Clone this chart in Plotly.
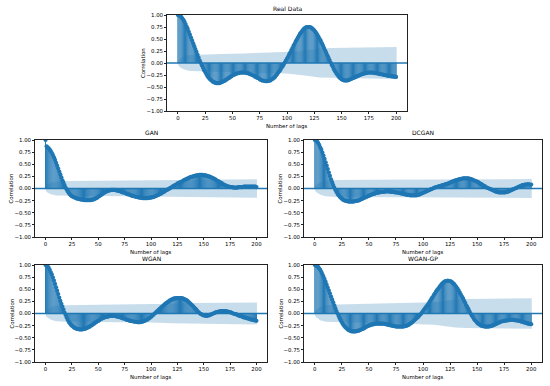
import plotly.graph_objects as go

lags = list(range(201))

real_acf = [1.00,0.99,0.98,0.96,0.93,0.90,0.86,0.81,0.76,0.71,0.65,0.59,0.53,0.47,0.41,0.35,0.29,0.23,0.17,0.11,
0.05,0.00,-0.05,-0.10,-0.15,-0.19,-0.23,-0.27,-0.30,-0.33,-0.35,-0.37,-0.39,-0.40,-0.41,-0.42,-0.42,-0.42,-0.42,-0.41,
-0.40,-0.39,-0.38,-0.37,-0.35,-0.34,-0.32,-0.31,-0.29,-0.28,-0.26,-0.25,-0.24,-0.23,-0.22,-0.21,-0.21,-0.20,-0.20,-0.20,
-0.20,-0.20,-0.20,-0.21,-0.21,-0.22,-0.23,-0.24,-0.25,-0.26,-0.27,-0.29,-0.30,-0.31,-0.32,-0.34,-0.35,-0.36,-0.37,-0.37,
-0.38,-0.38,-0.38,-0.37,-0.37,-0.36,-0.34,-0.33,-0.31,-0.29,-0.26,-0.23,-0.20,-0.17,-0.14,-0.10,-0.07,-0.03,0.01,0.05,
0.09,0.13,0.18,0.22,0.27,0.31,0.36,0.40,0.45,0.49,0.53,0.57,0.61,0.64,0.67,0.70,0.72,0.74,0.75,0.75,
0.75,0.75,0.74,0.72,0.70,0.68,0.65,0.62,0.58,0.54,0.50,0.46,0.41,0.36,0.31,0.26,0.21,0.16,0.11,0.06,
0.01,-0.04,-0.08,-0.13,-0.17,-0.21,-0.24,-0.27,-0.30,-0.32,-0.34,-0.35,-0.36,-0.36,-0.37,-0.36,-0.36,-0.35,-0.34,-0.33,
-0.32,-0.31,-0.30,-0.29,-0.28,-0.27,-0.26,-0.25,-0.24,-0.23,-0.22,-0.22,-0.21,-0.21,-0.20,-0.20,-0.20,-0.20,-0.20,-0.20,
-0.21,-0.21,-0.21,-0.22,-0.22,-0.23,-0.23,-0.24,-0.24,-0.25,-0.25,-0.26,-0.26,-0.27,-0.27,-0.27,-0.28,-0.28,-0.28,-0.29,
-0.29]

gan_acf = [1.00,0.87,0.85,0.83,0.80,0.77,0.73,0.69,0.64,0.59,0.53,0.47,0.41,0.35,0.29,0.23,0.17,0.12,0.07,0.02,
-0.02,-0.06,-0.09,-0.12,-0.14,-0.16,-0.17,-0.18,-0.19,-0.20,-0.21,-0.21,-0.22,-0.22,-0.23,-0.23,-0.23,-0.24,-0.24,-0.24,
-0.24,-0.24,-0.24,-0.24,-0.23,-0.23,-0.22,-0.21,-0.20,-0.19,-0.17,-0.16,-0.14,-0.13,-0.11,-0.10,-0.08,-0.07,-0.06,-0.05,
-0.04,-0.04,-0.03,-0.03,-0.03,-0.03,-0.03,-0.04,-0.04,-0.05,-0.05,-0.06,-0.07,-0.08,-0.08,-0.09,-0.10,-0.11,-0.12,-0.12,
-0.13,-0.14,-0.15,-0.15,-0.16,-0.17,-0.17,-0.18,-0.18,-0.19,-0.19,-0.19,-0.20,-0.20,-0.20,-0.20,-0.20,-0.20,-0.19,-0.19,
-0.19,-0.18,-0.18,-0.17,-0.16,-0.15,-0.14,-0.13,-0.12,-0.11,-0.10,-0.08,-0.07,-0.06,-0.04,-0.03,-0.02,-0.01,0.01,0.02,
0.03,0.05,0.06,0.07,0.08,0.10,0.11,0.12,0.13,0.14,0.15,0.17,0.18,0.19,0.20,0.21,0.22,0.23,0.24,0.24,
0.25,0.26,0.26,0.27,0.27,0.27,0.28,0.28,0.28,0.28,0.27,0.27,0.27,0.26,0.25,0.25,0.24,0.23,0.22,0.21,
0.20,0.19,0.17,0.16,0.15,0.13,0.12,0.11,0.09,0.08,0.07,0.06,0.05,0.04,0.04,0.03,0.03,0.03,0.02,0.02,
0.02,0.02,0.02,0.03,0.03,0.03,0.03,0.03,0.04,0.04,0.04,0.04,0.04,0.04,0.04,0.04,0.04,0.04,0.04,0.04,
0.03]

dcgan_acf = [1.00,0.99,0.97,0.94,0.90,0.85,0.80,0.74,0.68,0.61,0.54,0.47,0.40,0.33,0.26,0.19,0.13,0.07,0.02,-0.03,
-0.07,-0.11,-0.14,-0.17,-0.19,-0.21,-0.23,-0.24,-0.25,-0.26,-0.26,-0.27,-0.27,-0.27,-0.27,-0.27,-0.27,-0.26,-0.26,-0.25,
-0.25,-0.24,-0.23,-0.22,-0.21,-0.20,-0.19,-0.18,-0.17,-0.16,-0.15,-0.14,-0.13,-0.12,-0.11,-0.11,-0.10,-0.09,-0.09,-0.08,
-0.08,-0.07,-0.07,-0.07,-0.07,-0.06,-0.06,-0.06,-0.06,-0.06,-0.07,-0.07,-0.07,-0.07,-0.08,-0.08,-0.08,-0.09,-0.09,-0.10,
-0.10,-0.11,-0.11,-0.12,-0.12,-0.13,-0.13,-0.13,-0.14,-0.14,-0.14,-0.14,-0.14,-0.14,-0.14,-0.13,-0.13,-0.12,-0.11,-0.10,
-0.09,-0.08,-0.07,-0.06,-0.05,-0.04,-0.03,-0.02,-0.01,0.00,0.01,0.02,0.03,0.03,0.04,0.05,0.05,0.06,0.07,0.07,
0.08,0.09,0.09,0.10,0.11,0.12,0.13,0.14,0.15,0.16,0.17,0.17,0.18,0.19,0.19,0.20,0.20,0.21,0.21,0.21,
0.21,0.21,0.21,0.20,0.20,0.19,0.18,0.17,0.16,0.15,0.14,0.13,0.11,0.10,0.09,0.07,0.06,0.05,0.03,0.02,
0.01,0.00,-0.01,-0.02,-0.03,-0.04,-0.05,-0.06,-0.07,-0.07,-0.08,-0.08,-0.08,-0.08,-0.08,-0.08,-0.08,-0.07,-0.07,-0.06,
-0.05,-0.04,-0.03,-0.02,-0.01,0.00,0.01,0.02,0.03,0.04,0.05,0.06,0.07,0.07,0.08,0.08,0.08,0.09,0.08,0.08,
0.08]

wgan_acf = [1.00,0.99,0.97,0.94,0.90,0.85,0.80,0.74,0.68,0.61,0.54,0.47,0.40,0.33,0.26,0.20,0.14,0.08,0.02,-0.03,
-0.08,-0.13,-0.17,-0.20,-0.23,-0.25,-0.27,-0.29,-0.30,-0.31,-0.32,-0.32,-0.33,-0.33,-0.33,-0.33,-0.32,-0.32,-0.31,-0.30,
-0.29,-0.28,-0.27,-0.25,-0.24,-0.22,-0.21,-0.19,-0.18,-0.16,-0.15,-0.14,-0.12,-0.11,-0.10,-0.09,-0.08,-0.07,-0.07,-0.06,
-0.06,-0.05,-0.05,-0.05,-0.05,-0.05,-0.05,-0.06,-0.06,-0.07,-0.07,-0.08,-0.09,-0.10,-0.10,-0.11,-0.12,-0.13,-0.13,-0.14,
-0.15,-0.15,-0.16,-0.16,-0.17,-0.17,-0.17,-0.18,-0.18,-0.18,-0.18,-0.17,-0.17,-0.16,-0.15,-0.14,-0.13,-0.12,-0.10,-0.09,
-0.07,-0.05,-0.03,-0.01,0.01,0.03,0.05,0.07,0.09,0.11,0.13,0.15,0.17,0.19,0.21,0.22,0.24,0.25,0.27,0.28,
0.29,0.30,0.31,0.31,0.32,0.32,0.32,0.32,0.32,0.32,0.31,0.30,0.29,0.28,0.27,0.25,0.23,0.21,0.19,0.17,
0.15,0.12,0.10,0.08,0.05,0.03,0.01,-0.01,-0.02,-0.03,-0.04,-0.04,-0.05,-0.05,-0.04,-0.04,-0.03,-0.02,-0.01,0.00,
0.01,0.02,0.03,0.03,0.04,0.04,0.05,0.05,0.05,0.05,0.05,0.05,0.04,0.04,0.03,0.03,0.02,0.01,0.00,-0.01,
-0.01,-0.02,-0.03,-0.04,-0.05,-0.05,-0.06,-0.07,-0.08,-0.08,-0.09,-0.10,-0.10,-0.11,-0.12,-0.12,-0.13,-0.13,-0.14,-0.14,
-0.15]

wgangp_acf = [1.00,0.99,0.98,0.96,0.93,0.90,0.86,0.81,0.76,0.71,0.65,0.59,0.53,0.47,0.41,0.35,0.29,0.23,0.17,0.11,
0.05,0.00,-0.05,-0.10,-0.14,-0.18,-0.22,-0.25,-0.28,-0.30,-0.32,-0.34,-0.35,-0.36,-0.37,-0.37,-0.37,-0.37,-0.37,-0.36,
-0.36,-0.35,-0.34,-0.33,-0.32,-0.31,-0.30,-0.28,-0.27,-0.26,-0.25,-0.24,-0.23,-0.23,-0.22,-0.22,-0.21,-0.21,-0.21,-0.21,
-0.21,-0.21,-0.21,-0.21,-0.21,-0.22,-0.22,-0.23,-0.23,-0.24,-0.24,-0.25,-0.25,-0.26,-0.26,-0.27,-0.27,-0.27,-0.27,-0.27,
-0.27,-0.27,-0.27,-0.26,-0.26,-0.25,-0.24,-0.23,-0.21,-0.20,-0.18,-0.16,-0.14,-0.12,-0.10,-0.08,-0.06,-0.03,-0.01,0.02,
0.05,0.08,0.11,0.14,0.17,0.20,0.24,0.27,0.31,0.34,0.38,0.41,0.45,0.48,0.51,0.54,0.57,0.60,0.62,0.64,
0.66,0.67,0.67,0.68,0.67,0.67,0.66,0.64,0.62,0.60,0.57,0.54,0.51,0.47,0.43,0.39,0.35,0.31,0.26,0.22,
0.17,0.13,0.09,0.04,0.00,-0.04,-0.07,-0.11,-0.14,-0.16,-0.19,-0.21,-0.22,-0.24,-0.25,-0.26,-0.26,-0.27,-0.27,-0.27,
-0.27,-0.27,-0.26,-0.26,-0.25,-0.24,-0.23,-0.22,-0.21,-0.20,-0.19,-0.18,-0.17,-0.16,-0.16,-0.15,-0.15,-0.14,-0.14,-0.14,
-0.13,-0.13,-0.13,-0.13,-0.13,-0.14,-0.14,-0.14,-0.15,-0.15,-0.16,-0.17,-0.17,-0.18,-0.19,-0.19,-0.20,-0.21,-0.21,-0.22,
-0.22]

# confidence band half-widths (read at selected lags)
real_band_lags = [-0.5,1,2,3,5,8,12,20,30,40,60,80,100,110,120,130,140,160,200.5]
real_band = [0.0,0.07,0.09,0.11,0.13,0.15,0.165,0.175,0.18,0.19,0.20,0.21,0.22,0.24,0.27,0.30,0.31,0.32,0.335]
gan_band_lags = [-0.5,1,3,5,10,20,50,100,150,200.5]
gan_band = [0.0,0.07,0.10,0.12,0.145,0.155,0.16,0.165,0.18,0.19]
dcgan_band_lags = [-0.5,1,3,5,10,20,50,100,150,200.5]
dcgan_band = [0.0,0.07,0.10,0.13,0.16,0.175,0.18,0.185,0.19,0.195]
wgan_band_lags = [-0.5,1,3,5,10,20,50,100,120,140,200.5]
wgan_band = [0.0,0.07,0.10,0.13,0.16,0.17,0.18,0.185,0.20,0.215,0.225]
wgangp_band_lags = [-0.5,1,3,5,10,20,50,90,110,120,130,140,160,200.5]
wgangp_band = [0.0,0.07,0.11,0.14,0.17,0.185,0.20,0.215,0.23,0.26,0.29,0.30,0.31,0.315]

titles = ["Real Data", "GAN", "DCGAN", "WGAN", "WGAN-GP"]
x_ticks = [0, 25, 50, 75, 100, 125, 150, 175, 200]
y_ticks = [-1.00, -0.75, -0.50, -0.25, 0.00, 0.25, 0.50, 0.75, 1.00]

W, H = 550, 386
# panel boxes in pixels (left, right, top, bottom)
boxes = [(167, 407, 15, 111), (35, 267, 140, 237), (304, 542, 140, 237),
         (35, 267, 265, 362), (304, 542, 265, 362)]

series = [real_acf, gan_acf, dcgan_acf, wgan_acf, wgangp_acf]
bands = [(real_band_lags, real_band), (gan_band_lags, gan_band), (dcgan_band_lags, dcgan_band),
         (wgan_band_lags, wgan_band), (wgangp_band_lags, wgangp_band)]

C0 = "#1f77b4"
FONT = "DejaVu Sans"
fig = go.Figure()
annotations = []
shapes = []
layout = {}

for i, (acf, (bl, bw), title, box) in enumerate(zip(series, bands, titles, boxes)):
    n = "" if i == 0 else str(i + 1)
    xa, ya = "x" + n, "y" + n
    l, r, t, b = box
    xdom = [l / W, r / W]
    ydom = [1 - b / H, 1 - t / H]
    # stems
    sx, sy = [], []
    for lag, v in zip(lags, acf):
        sx += [lag, lag, None]
        sy += [0, v, None]
    fig.add_trace(go.Scatter(x=sx, y=sy, mode="lines", line=dict(color=C0, width=1.0),
                             xaxis=xa, yaxis=ya, showlegend=False, hoverinfo="skip"))
    # markers
    fig.add_trace(go.Scatter(x=lags, y=acf, mode="markers",
                             marker=dict(color=C0, size=4.2, line=dict(width=0)),
                             xaxis=xa, yaxis=ya, showlegend=False))
    # confidence band
    bx = list(bl) + list(reversed(bl))
    by = list(bw) + [-v for v in reversed(bw)]
    fig.add_trace(go.Scatter(x=bx, y=by, mode="lines", fill="toself",
                             fillcolor="rgba(31,119,180,0.25)", line=dict(width=0),
                             xaxis=xa, yaxis=ya, showlegend=False, hoverinfo="skip"))
    # zero line
    shapes.append(dict(type="line", xref=xa + " domain", yref=ya, x0=0, x1=1, y0=0, y1=0,
                       line=dict(color=C0, width=1.3)))
    axis_common = dict(showline=True, mirror=True, linecolor="#222222", linewidth=0.8,
                       ticks="outside", ticklen=2, tickwidth=0.6, tickcolor="#222222",
                       showgrid=False, zeroline=False, automargin=False,
                       tickfont=dict(family=FONT, size=5.4, color="black"))
    layout["xaxis" + n] = dict(domain=xdom, range=[-10, 210], tickvals=x_ticks,
                               anchor=ya, **axis_common)
    layout["yaxis" + n] = dict(domain=ydom, range=[-1, 1], tickvals=y_ticks, tickformat=".2f",
                               anchor=xa, **axis_common)
    annotations.append(dict(text=title, x=(l + r) / 2 / W, y=1 - (t - 1.5) / H, xref="paper", yref="paper",
                            xanchor="center", yanchor="bottom", showarrow=False,
                            font=dict(family=FONT, size=6.0, color="black")))
    annotations.append(dict(text="Number of lags", x=(l + r) / 2 / W, y=1 - (b + 10) / H,
                            xref="paper", yref="paper", xanchor="center", yanchor="top",
                            showarrow=False, font=dict(family=FONT, size=5.4, color="black")))
    annotations.append(dict(text="Correlation", x=(l - 24) / W, y=1 - (t + b) / 2 / H,
                            xref="paper", yref="paper", xanchor="center", yanchor="middle",
                            textangle=-90, showarrow=False,
                            font=dict(family=FONT, size=5.4, color="black")))

fig.update_layout(width=W, height=H, margin=dict(l=0, r=0, t=0, b=0),
                  paper_bgcolor="white", plot_bgcolor="white",
                  annotations=annotations, shapes=shapes, **layout)

fig.write_html("out.html", config={"displayModeBar": False},
               post_script="document.body.style.margin='0';")
